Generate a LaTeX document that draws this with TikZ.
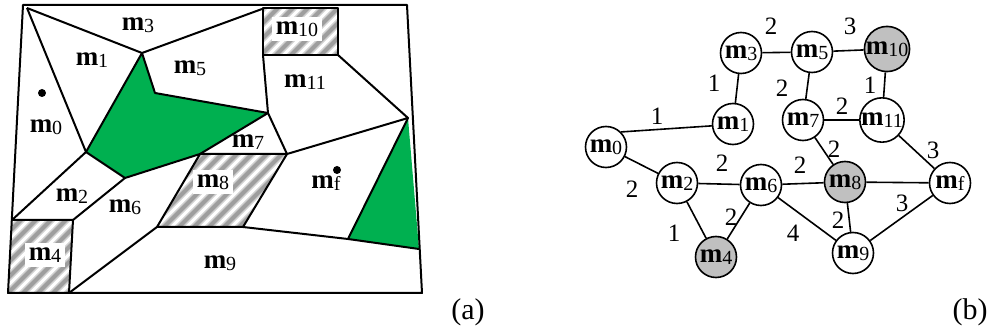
\documentclass[tikz,border=0pt]{standalone}
\usepackage{fontspec}
\setmainfont{Liberation Serif}
\usetikzlibrary{positioning}
\definecolor{mapgreen}{RGB}{0,176,80}
\definecolor{nodegray}{RGB}{192,192,192}
\newcommand\mlab[1]{{\fontsize{13.5}{15}\selectfont\bfseries m}\raisebox{-0.1em}{\fontsize{10}{11}\selectfont #1}}
\newcommand\hatchin[1]{\begin{scope}\clip #1;
  \foreach \k in {-345,-330,...,450} {
    \draw[line width=3.6pt,black!18] (\k,331) -- ++(331,-331);
    \draw[line width=2pt,black!38] (\k,331) -- ++(331,-331);}
  \end{scope}}

\begin{document}
\begin{tikzpicture}[x=0.5pt,y=-0.5pt,font=\fontsize{12.5}{14}\selectfont,
    wall/.style={line width=1pt,line join=round},
    reg/.style={inner sep=1pt},
    hreg/.style={fill=white,inner sep=2pt},
    mnode/.style={draw,circle,fill=white,line width=0.8pt,minimum size=20.5pt,inner sep=0pt},
    mgray/.style={mnode,fill=nodegray},
    wt/.style={inner sep=0pt},
    link/.style={line width=0.8pt}]
  \useasboundingbox (0,0) rectangle (992,331);

  % (a) the map
  \coordinate (pA) at (27,8);    \coordinate (pB) at (142,53);
  \coordinate (pC) at (262,9);   \coordinate (pD) at (86,152);
  \coordinate (pE) at (155,93);  \coordinate (pF) at (268,113);
  \coordinate (pG) at (125,178); \coordinate (pH) at (200,154);
  \coordinate (pI) at (287,154); \coordinate (pJ) at (408,118);
  \coordinate (pK) at (338,55);  \coordinate (pL) at (263,55);
  \coordinate (pM) at (243,227); \coordinate (pN) at (157,227);
  \coordinate (pO) at (348,239); \coordinate (pP) at (419,249);

  \fill[mapgreen] (pD) -- (pB) -- (pE) -- (pF) -- (pH) -- (pG) -- cycle;
  \fill[mapgreen] (pJ) -- (pO) -- (pP) -- cycle;
  \hatchin{(263,8) rectangle (338,55)}
  \hatchin{(pH) -- (pI) -- (pM) -- (pN) -- cycle}
  \hatchin{(12,220) -- (73,220) -- (69,293) -- (8,293) -- cycle}

  \draw[wall] (23,5) -- (407,5) -- (422,293) -- (8,293) -- cycle;
  \draw[wall] (pA) -- (pB) -- (pC);
  \draw[wall] (pA) -- (pD);
  \draw[wall] (pD) -- (pB) -- (pE) -- (pF) -- (pH) -- (pG) -- cycle;
  \draw[wall] (pD) -- (12,220);
  \draw[wall] (pG) -- (73,220);
  \draw[wall] (12,220) -- (73,220) -- (69,293);
  \draw[wall] (pN) -- (69,293);
  \draw[wall] (pH) -- (pI) -- (pM) -- (pN) -- cycle;
  \draw[wall] (pF) -- (pI);
  \draw[wall] (pL) -- (pF);
  \draw[wall] (263,8) rectangle (338,55);
  \draw[wall] (pK) -- (pJ) -- (pI);
  \draw[wall] (pJ) -- (pO) -- (pP);
  \draw[wall] (pM) -- (pO);
  \fill (42,93) circle (2pt);
  \fill (337,170) circle (2pt);

  \node[reg] (r3) at (138,25) {\mlab{3}};
  \node[reg] (r1) at (92,60) {\mlab{1}};
  \node[reg] (r5) at (190,68) {\mlab{5}};
  \node[hreg] (r10) at (297,29) {\mlab{10}};
  \node[reg] (r11) at (305,82) {\mlab{11}};
  \node[reg] (r0) at (46,127) {\mlab{0}};
  \node[reg] (r7) at (248,142) {\mlab{7}};
  \node[hreg] (r8) at (213,182) {\mlab{8}};
  \node[reg] (rf) at (326,183) {\mlab{f}};
  \node[reg] (r2) at (72,196) {\mlab{2}};
  \node[reg] (r6) at (125,207) {\mlab{6}};
  \node[hreg] (r4) at (45,255) {\mlab{4}};
  \node[reg] (r9) at (220,263) {\mlab{9}};
  \node (capa) at (468,312) {\fontsize{15}{17}\selectfont(a)};

  % (b) the graph
  \node[mnode] (g3) at (741,53) {\mlab{3}};
  \node[mnode] (g5) at (812,52) {\mlab{5}};
  \node[mgray] (g10) at (887,49) {\mlab{10}};
  \node[mnode] (g1) at (733,124) {\mlab{1}};
  \node[mnode] (g7) at (803,120) {\mlab{7}};
  \node[mnode] (g11) at (882,120) {\mlab{11}};
  \node[mnode] (g0) at (606,147) {\mlab{0}};
  \node[mnode] (g2) at (677,183) {\mlab{2}};
  \node[mnode] (g6) at (761,185) {\mlab{6}};
  \node[mgray] (g8) at (845,182) {\mlab{8}};
  \node[mnode] (gf) at (950,183) {\mlab{f}};
  \node[mgray] (g4) at (716,257) {\mlab{4}};
  \node[mnode] (g9) at (853,253) {\mlab{9}};

  \draw[link] (g3) -- (g5) node[wt] at (771,26) {2};
  \draw[link] (g5) -- (g10) node[wt] at (850,26) {3};
  \draw[link] (g3) -- (g1) node[wt] at (714,83) {1};
  \draw[link] (g5) -- (g7) node[wt] at (782,88) {2};
  \draw[link] (g10) -- (g11) node[wt] at (870,85) {1};
  \draw[link] (g7) -- (g11) node[wt] at (842,106) {2};
  \draw[link] (g0.north east) -- (g1.185) node[wt] at (657,116) {1};
  \draw[link] (g7) -- (g8) node[wt] at (834,149) {2};
  \draw[link] (g11) -- (gf) node[wt] at (933,150) {3};
  \draw[link] (g2) -- (g6) node[wt] at (722,163) {2};
  \draw[link] (g6) -- (g8) node[wt] at (800,165) {2};
  \draw[link] (g0) -- (g2) node[wt] at (632,189) {2};
  \draw[link] (g8) -- (gf);
  \draw[link] (g9) -- (gf) node[wt] at (902,203) {3};
  \draw[link] (g8) -- (g9) node[wt] at (838,220) {2};
  \draw[link] (g4) -- (g6) node[wt] at (731,217) {2};
  \draw[link] (g2) -- (g4) node[wt] at (674,233) {1};
  \draw[link] (g6) -- (g9) node[wt] at (793,233) {4};
  \node (capb) at (970,312) {\fontsize{15}{17}\selectfont(b)};
\end{tikzpicture}
\end{document}
